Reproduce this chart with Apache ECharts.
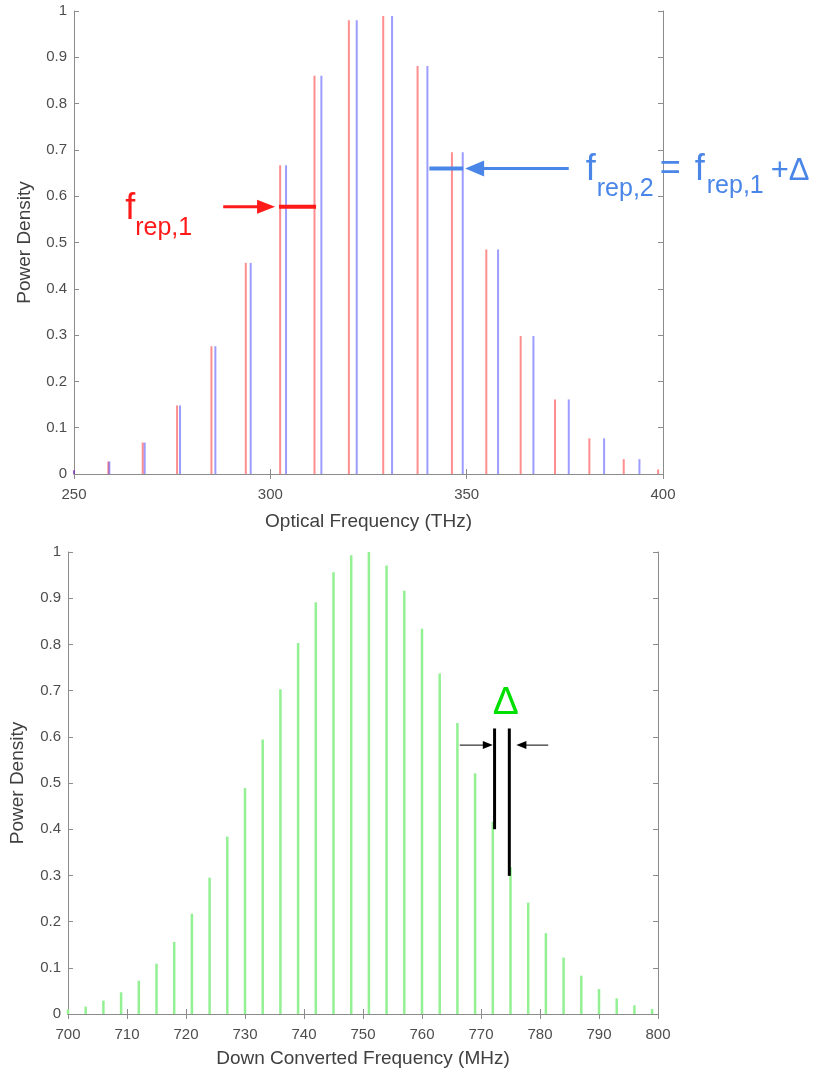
<!DOCTYPE html>
<html>
<head>
<meta charset="utf-8">
<script src="https://cdn.jsdelivr.net/npm/echarts@6/dist/echarts.min.js"></script>
<style>
  html, body { margin: 0; padding: 0; background: #fff; }
  #chart { width: 825px; height: 1076px; }
</style>
</head>
<body>
<div id="chart"></div>
<script>
// top panel: two combs (THz)
const redFreq = [250, 258.75, 267.5, 276.25, 285, 293.75, 302.5, 311.25, 320, 328.75, 337.5, 346.25, 355, 363.75, 372.5, 381.25, 390, 398.75]
const redPower = [0.008, 0.027, 0.068, 0.148, 0.276, 0.456, 0.667, 0.86, 0.98, 0.989, 0.881, 0.695, 0.485, 0.298, 0.161, 0.077, 0.032, 0.010]
const blueFreq = [250, 259, 268, 277, 286, 295, 304, 313, 322, 331, 340, 349, 358, 367, 376, 385, 394]
const bluePower = [0.008, 0.027, 0.068, 0.148, 0.276, 0.456, 0.667, 0.86, 0.98, 0.989, 0.881, 0.695, 0.485, 0.298, 0.161, 0.077, 0.032]

// bottom panel: down converted comb (MHz)
const greenFreq = [700, 703, 706, 709, 712, 715, 718, 721, 724, 727, 730, 733, 736, 739, 742, 745, 748,
  751, 754, 757, 760, 763, 766, 769, 772, 775, 778, 781, 784, 787, 790, 793, 796, 799]
const greenPower = [0.01, 0.016, 0.029, 0.047, 0.072, 0.109, 0.156, 0.217, 0.295, 0.384, 0.489, 0.594, 0.703,
  0.803, 0.891, 0.956, 0.993, 1.0, 0.971, 0.916, 0.834, 0.737, 0.630, 0.521, 0.416, 0.318, 0.241, 0.175,
  0.122, 0.083, 0.054, 0.034, 0.019, 0.011]

const topTicks = [250, 300, 350, 400]
const bottomTicks = [700, 710, 720, 730, 740, 750, 760, 770, 780, 790, 800]

const FONT = 'Liberation Sans'
const axisGray = '#8c8c8c'
const labelGray = '#4d4d4d'

const chart = echarts.init(document.getElementById('chart'))

function pairs(xs, ys) {
  return xs.map((x, i) => [x, ys[i]])
}

function frameAxis(gridIndex, position, range, interval, isX, name, nameGap) {
  const main = position === 'bottom' || position === 'left'
  return {
    type: 'value',
    gridIndex: gridIndex,
    position: position,
    min: range[0],
    max: range[1],
    interval: interval,
    name: main ? name : '',
    nameLocation: 'middle',
    nameGap: nameGap,
    nameTextStyle: { fontFamily: FONT, fontSize: 19, color: '#404040' },
    axisLine: { show: true, lineStyle: { color: axisGray, width: 1 } },
    axisTick: { show: true, inside: true, length: 5, lineStyle: { color: axisGray } },
    axisLabel: {
      show: main,
      fontFamily: FONT,
      fontSize: 15,
      color: labelGray,
      margin: isX ? 13 : 7
    },
    splitLine: { show: false }
  }
}

chart.setOption({
  animation: false,
  backgroundColor: '#fff',
  grid: [
    { left: 74, right: 162, top: 11, bottom: 602 },
    { left: 68, right: 167, top: 552, bottom: 62 }
  ],
  xAxis: [
    frameAxis(0, 'bottom', [topTicks[0], topTicks[topTicks.length - 1]], 50, true, 'Optical Frequency (THz)', 38),
    frameAxis(0, 'top', [topTicks[0], topTicks[topTicks.length - 1]], 50, true, '', 0),
    frameAxis(1, 'bottom', [bottomTicks[0], bottomTicks[bottomTicks.length - 1]], 10, true, 'Down Converted Frequency (MHz)', 35),
    frameAxis(1, 'top', [bottomTicks[0], bottomTicks[bottomTicks.length - 1]], 10, true, '', 0)
  ],
  yAxis: [
    frameAxis(0, 'left', [0, 1], 0.1, false, 'Power Density', 40),
    frameAxis(0, 'right', [0, 1], 0.1, false, '', 0),
    frameAxis(1, 'left', [0, 1], 0.1, false, 'Power Density', 41),
    frameAxis(1, 'right', [0, 1], 0.1, false, '', 0)
  ],
  series: [
    {
      name: 'f_rep,1',
      type: 'bar',
      xAxisIndex: 0,
      yAxisIndex: 0,
      barWidth: 2,
      barGap: '-100%',
      itemStyle: { color: 'rgba(255,30,30,0.5)' },
      data: pairs(redFreq, redPower)
    },
    {
      name: 'f_rep,2',
      type: 'bar',
      xAxisIndex: 0,
      yAxisIndex: 0,
      barWidth: 2,
      barGap: '-100%',
      itemStyle: { color: 'rgba(60,60,255,0.5)' },
      data: pairs(blueFreq, bluePower)
    },
    {
      name: 'down converted',
      type: 'bar',
      xAxisIndex: 2,
      yAxisIndex: 2,
      barWidth: 2.5,
      itemStyle: { color: '#93f093' },
      data: pairs(greenFreq, greenPower)
    }
  ]
})

// annotations placed in data coordinates
function px(g, x, y) {
  return chart.convertToPixel({ xAxisIndex: g === 0 ? 0 : 2, yAxisIndex: g === 0 ? 0 : 2 }, [x, y])
}

function seg(a, b, color, w) {
  return { type: 'line', shape: { x1: a[0], y1: a[1], x2: b[0], y2: b[1] }, style: { stroke: color, lineWidth: w }, z: 100 }
}

function head(tip, dir, color, len, half) {
  return {
    type: 'polygon',
    shape: { points: [[tip[0], tip[1]], [tip[0] - dir * len, tip[1] - half], [tip[0] - dir * len, tip[1] + half]] },
    style: { fill: color },
    z: 100
  }
}

function txt(x, y, s, size, color) {
  return {
    type: 'text', x: x, y: y, z: 101,
    style: { text: s, fontFamily: FONT, fontSize: size, fill: color, verticalAlign: 'middle', align: 'left' }
  }
}

const red = '#ff1a1a'
const blue = '#4a86e8'
const g = []

// f_rep,1 marker
const rA = px(0, 288.0, 0.577)
const rTip = px(0, 301.2, 0.577)
g.push(seg(rA, [rTip[0] - 14, rTip[1]], red, 3))
g.push(head(rTip, 1, red, 18, 7))
g.push(seg(px(0, redFreq[6] - 0.3, 0.577), px(0, redFreq[7] + 0.4, 0.577), red, 4))
g.push(txt(rA[0] - 98, rA[1] + 2, 'f', 36, red))
g.push(txt(rA[0] - 88, rA[1] + 21, 'rep,1', 25, red))

// f_rep,2 marker
const bA = px(0, 376.0, 0.66)
const bTip = px(0, 349.6, 0.66)
g.push(seg(bA, [bTip[0] + 14, bTip[1]], blue, 3))
g.push(head(bTip, -1, blue, 19, 8))
g.push(seg(px(0, blueFreq[10] + 0.5, 0.66), px(0, blueFreq[11] + 0.1, 0.66), blue, 4))
g.push(txt(bA[0] + 17, bA[1] + 2, 'f', 36, blue))
g.push(txt(bA[0] + 28, bA[1] + 21, 'rep,2', 25, blue))
g.push(txt(bA[0] + 91, bA[1] + 1, '=', 36, blue))
g.push(txt(bA[0] + 126, bA[1] + 2, 'f', 36, blue))
g.push(txt(bA[0] + 138, bA[1] + 18, 'rep,1', 25, blue))
g.push(txt(bA[0] + 202, bA[1] + 3, '+Δ', 31, blue))

// Δ marker in down converted panel
g.push(seg(px(1, 772.3, 0.618), px(1, 772.3, 0.40), '#000', 3))
g.push(seg(px(1, 774.8, 0.618), px(1, 774.8, 0.299), '#000', 3))
const lTip = px(1, 772.0, 0.582)
g.push(seg(px(1, 766.4, 0.582), [lTip[0] - 8, lTip[1]], '#000', 1))
g.push(head(lTip, 1, '#000', 10, 4))
const rgTip = px(1, 776.0, 0.582)
g.push(seg(px(1, 781.4, 0.582), [rgTip[0] + 8, rgTip[1]], '#000', 1))
g.push(head(rgTip, -1, '#000', 10, 4))
const dC = px(1, 774.2, 0.673)
g.push({
  type: 'text', x: dC[0], y: dC[1], z: 101,
  style: { text: 'Δ', fontFamily: FONT, fontSize: 39, fill: '#00e000', align: 'center', verticalAlign: 'middle' }
})

chart.setOption({ graphic: g })
</script>
</body>
</html>
